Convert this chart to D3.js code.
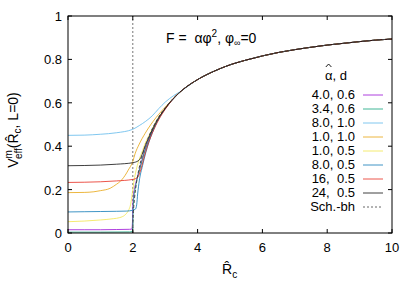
<!DOCTYPE html>
<html>
<head>
<meta charset="utf-8">
<script src="https://cdn.jsdelivr.net/npm/d3@7"></script>
<style>
  body { margin: 0; background: #fff; }
  svg { display: block; font-family: "Liberation Sans", Arial, sans-serif; }
</style>
</head>
<body>
<svg id="chart" width="417" height="292"></svg>
<script>
// values
const xTicks = [0, 2, 4, 6, 8, 10];
const yTicks = [0, 0.2, 0.4, 0.6, 0.8, 1];
const yTickLabels = ["0", "0.2", "0.4", "0.6", "0.8", "1"];

const labels = ["4.0, 0.6", "3.4, 0.6", "8.0, 1.0", "1.0, 1.0", "1.0, 0.5", "8.0, 0.5", "16,\u00a0 0.5", "24,\u00a0 0.5"];
const colors = ["#9400d3", "#009e73", "#56b4e9", "#e69f00", "#f0e442", "#0072b2", "#e51e10", "#000000"];

// common tail where every curve lies on the Schwarzschild one
const tail = [[3.5,0.655],[4,0.707],[4.5,0.745],[5,0.775],[5.5,0.797],[6,0.816],[6.5,0.832],[7,0.845],[7.5,0.856],[8,0.866],[8.5,0.874],[9,0.882],[9.5,0.889],[10,0.894]];

const purple = [[0,0.015],[0.5,0.015],[1,0.015],[1.5,0.016],[1.9,0.017],[1.97,0.018],[1.99,0.05],[2.0,0.12],[2.02,0.17],[2.06,0.21],[2.1,0.235],[2.2,0.29],[2.3,0.345],[2.4,0.395],[2.5,0.435],[2.6,0.47],[2.8,0.53],[3.0,0.575],[3.25,0.62]];
const green = [[0,0.004],[1,0.004],[1.9,0.005],[1.98,0.006],[2.0,0.03],[2.01,0.1],[2.03,0.16],[2.07,0.2],[2.12,0.24],[2.2,0.285],[2.3,0.34],[2.4,0.39],[2.5,0.43],[2.6,0.468],[2.8,0.528],[3.0,0.573],[3.25,0.618]];
const lightblue = [[0,0.45],[0.5,0.451],[1,0.455],[1.5,0.462],[2,0.478],[2.2,0.495],[2.4,0.515],[2.6,0.54],[2.8,0.573],[3.0,0.603],[3.25,0.632]];
const orange = [[0,0.186],[0.5,0.187],[0.8,0.19],[1,0.195],[1.3,0.206],[1.5,0.225],[1.6,0.236],[1.76,0.265],[1.86,0.29],[2.0,0.33],[2.07,0.365],[2.2,0.41],[2.38,0.459],[2.63,0.515],[2.8,0.547],[3.0,0.58],[3.25,0.62]];
const yellow = [[0,0.052],[0.5,0.055],[1,0.06],[1.4,0.066],[1.6,0.071],[1.75,0.082],[1.81,0.091],[1.88,0.108],[1.93,0.13],[1.97,0.167],[2.0,0.2],[2.05,0.25],[2.12,0.3],[2.2,0.34],[2.3,0.38],[2.4,0.42],[2.5,0.45],[2.6,0.48],[2.8,0.533],[3.0,0.575],[3.25,0.62]];
const blue = [[0,0.097],[0.5,0.098],[1,0.099],[1.5,0.1],[1.8,0.101],[2.0,0.105],[2.08,0.11],[2.12,0.13],[2.15,0.18],[2.2,0.24],[2.3,0.31],[2.4,0.37],[2.5,0.42],[2.6,0.46],[2.8,0.525],[3.0,0.572],[3.25,0.618]];
const red = [[0,0.233],[0.5,0.234],[1,0.236],[1.5,0.24],[2,0.247],[2.15,0.256],[2.22,0.28],[2.28,0.31],[2.35,0.35],[2.45,0.4],[2.6,0.46],[2.8,0.522],[3.0,0.57],[3.25,0.618]];
const black = [[0,0.31],[0.5,0.311],[1,0.313],[1.5,0.317],[2,0.324],[2.17,0.333],[2.25,0.348],[2.32,0.375],[2.4,0.408],[2.48,0.435],[2.63,0.485],[2.8,0.532],[2.94,0.562],[3.25,0.62]];
const sch = [[2.0,0],[2.005,0.05],[2.02,0.1],[2.05,0.156],[2.1,0.218],[2.2,0.302],[2.3,0.361],[2.4,0.408],[2.5,0.447],[2.6,0.48],[2.8,0.535],[3.0,0.577],[3.25,0.62]];

const seriesData = [purple, green, lightblue, orange, yellow, blue, red, black];

const svg = d3.select("#chart");
const margin = { left: 68, right: 25, top: 16, bottom: 59 };
const W = 417, H = 292;

const x = d3.scaleLinear().domain([0, 10]).range([margin.left, W - margin.right]);
const y = d3.scaleLinear().domain([0, 1]).range([H - margin.bottom, margin.top]);

const line = d3.line()
  .x((d) => x(d[0]))
  .y((d) => y(d[1]))
  .curve(d3.curveMonotoneX);

// vertical dotted line at R=2
svg.append("line")
  .attr("x1", x(2)).attr("x2", x(2))
  .attr("y1", y(0)).attr("y2", y(1))
  .attr("stroke", "#777")
  .attr("stroke-width", 1)
  .attr("stroke-dasharray", "2,2");

// curves
seriesData.forEach((s, i) => {
  svg.append("path")
    .datum(s.concat(tail))
    .attr("fill", "none")
    .attr("stroke", colors[i])
    .attr("stroke-opacity", 0.75)
    .attr("stroke-width", 1)
    .attr("d", line);
});

svg.append("path")
  .datum(sch.concat(tail))
  .attr("fill", "none")
  .attr("stroke", "#444")
  .attr("stroke-width", 1)
  .attr("stroke-dasharray", "3,2")
  .attr("d", line);

// axes (ticks inward, mirrored)
const tickLen = 4;
const g = svg.append("g").attr("font-size", 13).attr("fill", "#000");

xTicks.forEach((t) => {
  g.append("line").attr("x1", x(t)).attr("x2", x(t)).attr("y1", y(0)).attr("y2", y(0) - tickLen).attr("stroke", "#000");
  g.append("line").attr("x1", x(t)).attr("x2", x(t)).attr("y1", y(1)).attr("y2", y(1) + tickLen).attr("stroke", "#000");
  g.append("text").attr("x", x(t)).attr("y", y(0) + 19).attr("text-anchor", "middle").text(t);
});

yTicks.forEach((t, i) => {
  g.append("line").attr("x1", x(0)).attr("x2", x(0) + tickLen).attr("y1", y(t)).attr("y2", y(t)).attr("stroke", "#000");
  g.append("line").attr("x1", x(10)).attr("x2", x(10) - tickLen).attr("y1", y(t)).attr("y2", y(t)).attr("stroke", "#000");
  g.append("text").attr("x", x(0) - 6).attr("y", y(t) + 5).attr("text-anchor", "end").text(yTickLabels[i]);
});

svg.append("rect")
  .attr("x", x(0)).attr("y", y(1))
  .attr("width", x(10) - x(0)).attr("height", y(0) - y(1))
  .attr("fill", "none").attr("stroke", "#000").attr("stroke-width", 1);

// x label
const xl = svg.append("text").attr("x", 222).attr("y", 274).attr("font-size", 14);
xl.append("tspan").text("R\u0302");
xl.append("tspan").attr("font-size", 10).attr("dy", 4).text("c");

// y label
const yl = svg.append("text")
  .attr("transform", "translate(18,130) rotate(-90)")
  .attr("text-anchor", "middle")
  .attr("font-size", 14);
yl.append("tspan").text("V");
yl.append("tspan").attr("font-size", 10).attr("dy", -6).text("m");
yl.append("tspan").attr("font-size", 10).attr("dx", -9).attr("dy", 10).text("eff");
yl.append("tspan").attr("dy", -4).text("(R\u0302");
yl.append("tspan").attr("font-size", 10).attr("dy", 3).text("c");
yl.append("tspan").attr("dy", -3).text(", L=0)");

// title
const tt = svg.append("text").attr("x", 166).attr("y", 43).attr("font-size", 14);
tt.append("tspan").text("F =\u00a0 \u03b1\u03c6");
tt.append("tspan").attr("font-size", 10).attr("dy", -6).text("2");
tt.append("tspan").attr("dy", 6).text(", \u03c6");
tt.append("tspan").attr("font-size", 9).attr("dy", 3).text("\u221e");
tt.append("tspan").attr("dy", -3).text("=0");

// legend
const lg = svg.append("g").attr("font-size", 13);
lg.append("text").attr("x", 325).attr("y", 80).text("\u03b1, d");
// hat over alpha
lg.append("path")
  .attr("d", "M325.8,67 L328.6,64 L331.4,67")
  .attr("fill", "none")
  .attr("stroke", "#000")
  .attr("stroke-width", 0.9);

const legendTop = 99, legendStep = 14;
labels.concat(["Sch.-bh"]).forEach((lab, i) => {
  const yy = legendTop + i * legendStep;
  lg.append("text").attr("x", 355).attr("y", yy).attr("text-anchor", "end").text(lab);
  const ln = lg.append("line")
    .attr("x1", 363).attr("x2", 383)
    .attr("y1", yy - 4).attr("y2", yy - 4)
    .attr("stroke-width", 1);
  if (i < colors.length) {
    ln.attr("stroke", colors[i]).attr("stroke-opacity", 0.75);
  } else {
    ln.attr("stroke", "#666").attr("stroke-dasharray", "2,2");
  }
});
</script>
</body>
</html>
